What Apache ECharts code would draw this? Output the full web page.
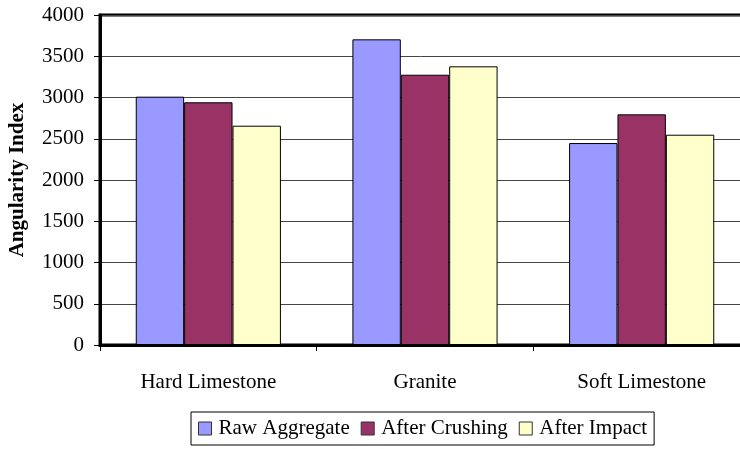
<!DOCTYPE html>
<html>
<head>
<meta charset="utf-8">
<script src="https://cdn.jsdelivr.net/npm/echarts@6/dist/echarts.min.js"></script>
<style>
  html, body { margin: 0; padding: 0; background: #fff; }
  #chart { width: 740px; height: 449px; }
</style>
</head>
<body>
<div id="chart"></div>
<script>
// Aggregate types along the x axis
const categories = ['Hard Limestone', 'Granite', 'Soft Limestone'];
// Angularity index per processing stage
const rawAggregate = [3010, 3705, 2448];
const afterCrushing = [2942, 3276, 2796];
const afterImpact = [2658, 3378, 2549];
const seriesNames = ['Raw Aggregate', 'After Crushing', 'After Impact'];
const seriesColors = ['#9999ff', '#993366', '#ffffcc'];

const serif = '"Liberation Serif", "Times New Roman", serif';
const chart = echarts.init(document.getElementById('chart'));

const values = [rawAggregate, afterCrushing, afterImpact];

chart.setOption({
  animation: false,
  backgroundColor: '#fff',
  grid: {
    left: 100, top: 15, right: -10, bottom: 104,
    outerBoundsMode: 'none',
    containLabel: false,
    show: true, borderColor: '#000', borderWidth: 3, backgroundColor: 'transparent'
  },
  legend: {
    left: 191, top: 412,
    data: seriesNames,
    itemWidth: 13, itemHeight: 13, itemGap: 11,
    padding: [6, 7, 6, 7],
    borderColor: '#000', borderWidth: 1,
    icon: 'rect',
    itemStyle: { borderColor: '#333', borderWidth: 1 },
    textStyle: { fontFamily: serif, fontSize: 21, color: '#000', padding: [0, 0, 0, 2] }
  },
  xAxis: {
    type: 'category',
    data: categories,
    axisLine: { lineStyle: { color: '#000', width: 3 } },
    axisTick: { show: true, length: 6, lineStyle: { color: '#000', width: 1 } },
    axisLabel: { fontFamily: serif, fontSize: 21, color: '#000', margin: 27 }
  },
  yAxis: {
    type: 'value',
    min: 0, max: 4000, interval: 500,
    name: 'Angularity Index',
    nameLocation: 'middle',
    nameGap: 72,
    nameTextStyle: { fontFamily: serif, fontSize: 21, fontWeight: 'bold', color: '#000' },
    axisLine: { show: true, lineStyle: { color: '#000', width: 3 } },
    axisTick: { show: true, length: 6, lineStyle: { color: '#000', width: 1 } },
    axisLabel: {
      fontFamily: serif, fontSize: 21, color: '#000', margin: 16,
      formatter: v => String(v)
    },
    splitLine: { lineStyle: { color: '#444', width: 1 } }
  },
  series: values.map((v, i) => ({
    name: seriesNames[i],
    type: 'bar',
    data: v,
    barGap: '0%',
    barCategoryGap: '33%',
    itemStyle: { color: seriesColors[i], borderColor: '#000', borderWidth: 1 }
  }))
});
</script>
</body>
</html>
